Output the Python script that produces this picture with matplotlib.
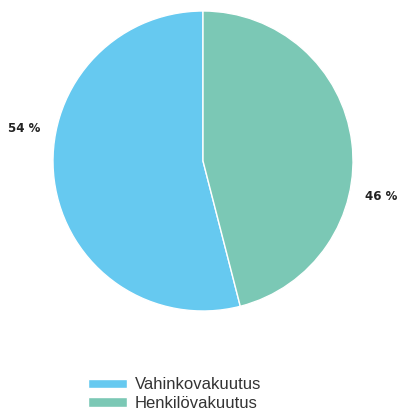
import numpy as np
import matplotlib.pyplot as plt

labels = ['Vahinkovakuutus', 'Henkilövakuutus']
shares = [54, 46]
colors = ['#66C9F0', '#7BC8B5']

plt.rcParams['font.family'] = ['Liberation Sans', 'DejaVu Sans']

fig = plt.figure(figsize=(4.01, 4.12), dpi=100)
ax = fig.add_axes([53 / 401, 101 / 412, 300 / 401, 300 / 412])

wedges, _ = ax.pie(shares, colors=colors, startangle=90, counterclock=True,
                   wedgeprops=dict(edgecolor='white', linewidth=1.0))
ax.set_aspect('equal')
ax.set_xlim(-1, 1)
ax.set_ylim(-1, 1)

# percentage labels sit outside the pie
ax.text(-1.19, 0.22, f'{shares[0]} %', ha='center', va='center',
        fontsize=8.5, fontweight='bold', color='#222222', family='DejaVu Sans')
ax.text(1.19, -0.24, f'{shares[1]} %', ha='center', va='center',
        fontsize=8.5, fontweight='bold', color='#222222', family='DejaVu Sans')

fig.legend(wedges, labels, loc='center left', bbox_to_anchor=(88 / 401, 1 - 394 / 412),
           frameon=False, fontsize=12, handlelength=2.35, handleheight=0.5,
           handletextpad=0.45, labelspacing=0.2, borderpad=0, borderaxespad=0,
           labelcolor='#333333')

fig.savefig('out.png', dpi=100)
